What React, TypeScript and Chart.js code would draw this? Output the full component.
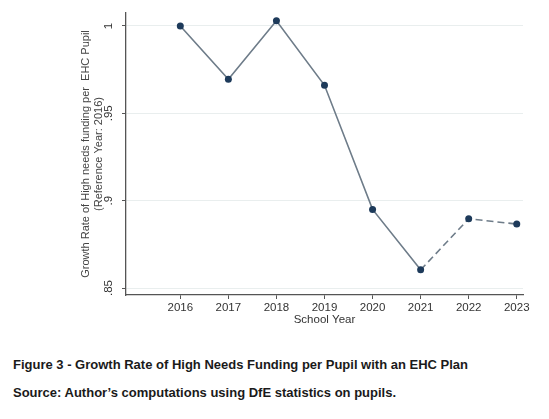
import { useEffect, useRef } from 'react'
import { Chart, registerables } from 'chart.js'

Chart.register(...registerables)

// school years and growth rate relative to 2016
const YEARS = [2016, 2017, 2018, 2019, 2020, 2021, 2022, 2023]
const GROWTH = [1.0, 0.9695, 1.003, 0.966, 0.895, 0.8604, 0.8896, 0.8866]
// projected part (dashed) starts at this index
const DASH_FROM = 5
const Y_TICKS = [0.85, 0.9, 0.95, 1]

const FONT = '"Liberation Sans", Arial, sans-serif'
const LINE_COLOR = '#6e7c89'
const MARKER_COLOR = '#1d3a5a'

function fmtTick(v: number) {
  if (v === 1) return '1'
  return String(v).replace(/^0/, '')
}

function GrowthChart() {
  const canvasRef = useRef<HTMLCanvasElement>(null)
  const chartRef = useRef<Chart | null>(null)

  useEffect(() => {
    const canvas = canvasRef.current
    if (!canvas) return
    chartRef.current?.destroy()

    chartRef.current = new Chart(canvas, {
      type: 'line',
      data: {
        datasets: [
          {
            data: YEARS.map((y, i) => ({ x: y, y: GROWTH[i] })),
            borderColor: LINE_COLOR,
            borderWidth: 1.6,
            pointRadius: 3.5,
            pointBackgroundColor: MARKER_COLOR,
            pointBorderColor: MARKER_COLOR,
            pointBorderWidth: 0,
            tension: 0,
            segment: {
              borderDash: (ctx: any) => (ctx.p0DataIndex >= DASH_FROM ? [7, 4] : undefined),
            },
          },
        ],
      },
      options: {
        animation: false,
        responsive: true,
        maintainAspectRatio: false,
        events: [],
        layout: { padding: { top: 13, right: 26, bottom: 5, left: 0 } },
        plugins: { legend: { display: false }, tooltip: { enabled: false } },
        scales: {
          x: {
            type: 'linear',
            min: 2014.87,
            max: 2023.13,
            afterBuildTicks: (s: any) => {
              s.ticks = YEARS.map((v) => ({ value: v }))
            },
            afterFit: (s: any) => {
              s.height = 40
            },
            border: { color: '#555', width: 1.3 },
            grid: { drawOnChartArea: false, drawTicks: true, tickLength: 4, tickColor: '#555' },
            ticks: {
              color: '#333',
              font: { family: FONT, size: 11.5 },
              padding: 2,
              maxRotation: 0,
              callback: (v: any) => String(v),
            },
            title: {
              display: true,
              text: 'School Year',
              color: '#333',
              font: { family: FONT, size: 11.5 },
              padding: { top: 0, bottom: 8 },
            },
          },
          y: {
            min: 0.846,
            max: 1.0074,
            afterBuildTicks: (s: any) => {
              s.ticks = Y_TICKS.map((v) => ({ value: v }))
            },
            afterFit: (s: any) => {
              s.width = 126
              s.paddingTop = 0
              s.paddingBottom = 0
            },
            border: { color: '#555', width: 1.3 },
            grid: { color: '#e9eeee', lineWidth: 1, tickLength: 4, tickColor: '#555' },
            ticks: {
              color: '#333',
              font: { family: FONT, size: 11.5 },
              minRotation: 90,
              maxRotation: 90,
              crossAlign: 'center',
              padding: 5,
              callback: (v: any) => fmtTick(Number(v)),
            },
            title: {
              display: true,
              text: ['Growth Rate of High needs funding per  EHC Pupil', '(Reference Year: 2016)'],
              color: '#444',
              font: { family: FONT, size: 11, lineHeight: 1.13 },
              padding: { top: 80, bottom: 0 },
            },
          },
        },
      },
    })

    return () => {
      chartRef.current?.destroy()
      chartRef.current = null
    }
  }, [])

  return (
    <div style={{ position: 'relative', width: 549, height: 340 }}>
      <canvas ref={canvasRef} />
    </div>
  )
}

export default function App() {
  const caption = {
    position: 'absolute' as const,
    left: 13,
    margin: 0,
    fontFamily: FONT,
    fontWeight: 'bold' as const,
    fontSize: 13,
    lineHeight: '16px',
    color: '#1a1a1a',
    whiteSpace: 'nowrap' as const,
  }
  return (
    <div style={{ position: 'fixed', left: 0, top: 0, width: 549, height: 419, background: '#fff' }}>
      <GrowthChart />
      <p style={{ ...caption, top: 357 }}>Figure 3 - Growth Rate of High Needs Funding per Pupil with an EHC Plan</p>
      <p style={{ ...caption, top: 385 }}>Source: Author’s computations using DfE statistics on pupils.</p>
    </div>
  )
}
